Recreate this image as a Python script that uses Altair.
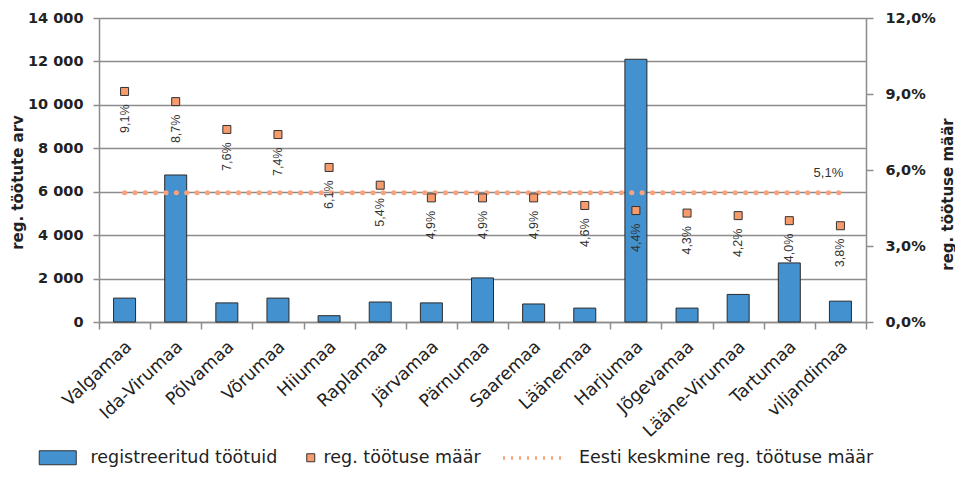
import altair as alt
import pandas as pd

counties = ["Valgamaa", "Ida-Virumaa", "Põlvamaa", "Võrumaa", "Hiiumaa", "Raplamaa",
            "Järvamaa", "Pärnumaa", "Saaremaa", "Läänemaa", "Harjumaa", "Jõgevamaa",
            "Lääne-Virumaa", "Tartumaa", "viljandimaa"]
unemployed = [1100, 6770, 880, 1100, 290, 920, 880, 2030, 830, 640, 12100, 640, 1270, 2720, 960]
rates = [9.1, 8.7, 7.6, 7.4, 6.1, 5.4, 4.9, 4.9, 4.9, 4.6, 4.4, 4.3, 4.2, 4.0, 3.8]
avg_rate = 5.1
bar_series = "registreeritud töötuid"
point_series = "reg. töötuse määr"
line_series = "Eesti keskmine reg. töötuse määr"
left_ticks = [0, 2000, 4000, 6000, 8000, 10000, 12000, 14000]
right_ticks = [0, 3, 6, 9, 12]

df = pd.DataFrame({
    "county": counties,
    "n": unemployed,
    "rate": rates,
    "avg": [avg_rate] * len(counties),
    "s1": bar_series,
    "s2": point_series,
    "s3": line_series,
})
df["label"] = [f"{r:.1f}".replace(".", ",") + "%" for r in rates]
avg_df = pd.DataFrame({"county": [counties[-1]], "avg": [avg_rate],
                       "label": [f"{avg_rate:.1f}".replace(".", ",") + "%"]})

FONT = "DejaVu Sans"
VALFONT = "Liberation Sans"
TXT = "#222222"

x_axis = alt.Axis(title=None, labelAngle=317, labelAlign="right", labelBaseline="middle",
                  labelFont=FONT, labelFontSize=17.5, labelColor=TXT, labelOffset=4,
                  labelPadding=15, tickSize=7, tickBand="extent", labelOverlap=False,
                  grid=False, domain=True)
x_scale = alt.Scale(paddingInner=0, paddingOuter=0)
x_enc = alt.X("county:N", sort=counties, scale=x_scale, axis=x_axis)

left_axis = alt.Axis(values=left_ticks,
                     labelExpr="replace(format(datum.value, ','), ',', ' ')",
                     title="reg. töötute arv", titleFont=FONT, titleFontSize=15,
                     titleFontWeight="bold", titleColor=TXT, titleAngle=270,
                     titleX=-82, titleY=164, titleAlign="center", titleBaseline="middle",
                     labelFont=FONT, labelFontWeight="bold", labelFontSize=14.5,
                     labelColor=TXT, tickSize=6, labelPadding=10, grid=True, domain=True)

right_axis = alt.Axis(orient="right", values=right_ticks,
                      labelExpr="replace(format(datum.value, '.1f'), '.', ',') + '%'",
                      title="reg. töötuse määr", titleFont=FONT, titleFontSize=15,
                      titleFontWeight="bold", titleColor=TXT, titleAngle=270,
                      titleX=81, titleY=176, titleAlign="center", titleBaseline="middle",
                      labelFont=FONT, labelFontWeight="bold", labelFontSize=14.5,
                      labelColor=TXT, tickSize=7, labelPadding=12, grid=False, domain=True)

rate_scale = alt.Scale(domain=[0, 12], nice=False)


def rate_y(field):
    return alt.Y(field, scale=rate_scale, axis=right_axis, title="reg. töötuse määr")


legend_common = dict(title=None, orient="none", labelFont=FONT, labelFontSize=17.5,
                     labelColor=TXT, labelLimit=500)

bars = alt.Chart(df).mark_bar(width=22, stroke="#2b2b2b", strokeWidth=1).encode(
    x=x_enc,
    y=alt.Y("n:Q", scale=alt.Scale(domain=[0, 14000], nice=False), axis=left_axis),
    fill=alt.Fill("s1:N", scale=alt.Scale(domain=[bar_series], range=["#4391CF"]),
                  legend=alt.Legend(legendX=-50, legendY=431,
                                    symbolType="M-2.643,-1H2.643V1H-2.643Z", symbolSize=196,
                                    symbolStrokeColor="#333333", symbolStrokeWidth=1,
                                    labelOffset=24, **legend_common)),
)

line = alt.Chart(df).mark_line(strokeDash=[0.1, 10.25], strokeCap="round", strokeWidth=5).encode(
    x=x_enc,
    y=rate_y("avg:Q"),
    stroke=alt.Stroke("s3:N", scale=alt.Scale(domain=[line_series], range=["#F9A27C"]),
                      legend=alt.Legend(legendX=402, legendY=407,
                                        symbolType="stroke", symbolSize=3844,
                                        symbolDash=[2, 6], symbolStrokeWidth=3.5,
                                        labelOffset=12, **legend_common)),
)

points = alt.Chart(df).mark_square(size=64, stroke="#333333", strokeWidth=1, opacity=1).encode(
    x=x_enc,
    y=rate_y("rate:Q"),
    fill=alt.Fill("s2:N", scale=alt.Scale(domain=[point_series], range=["#F79A6C"]),
                  legend=alt.Legend(legendX=203, legendY=431,
                                    symbolType="square", symbolSize=64,
                                    symbolStrokeColor="#333333", symbolStrokeWidth=1,
                                    labelOffset=4, **legend_common)),
)

labels = alt.Chart(df).mark_text(angle=270, align="right", baseline="middle", dx=-13,
                                 font=VALFONT, fontSize=12.5, color="#333333").encode(
    x=x_enc,
    y=rate_y("rate:Q"),
    text="label:N",
)

avg_label = alt.Chart(avg_df).mark_text(align="center", baseline="middle", dy=-20, dx=-12,
                                        font=VALFONT, fontSize=13, color="#333333").encode(
    x=x_enc,
    y=rate_y("avg:Q"),
    text="label:N",
)

inner = alt.layer(line, points, labels, avg_label)

chart = alt.layer(bars, inner).resolve_scale(
    y="independent", fill="independent"
).properties(
    width=767, height=304,
    padding={"left": 91, "top": 10, "right": 89, "bottom": 147},
    autosize=alt.AutoSizeParams(type="none"),
).configure_view(stroke=None).configure_axis(
    domainColor="#8c8c8c", tickColor="#8c8c8c", gridColor="#8c8c8c",
    domainWidth=1.5, tickWidth=1.5, gridWidth=1.3,
)

chart.save("out.html", embed_options={"renderer": "svg", "actions": False})
